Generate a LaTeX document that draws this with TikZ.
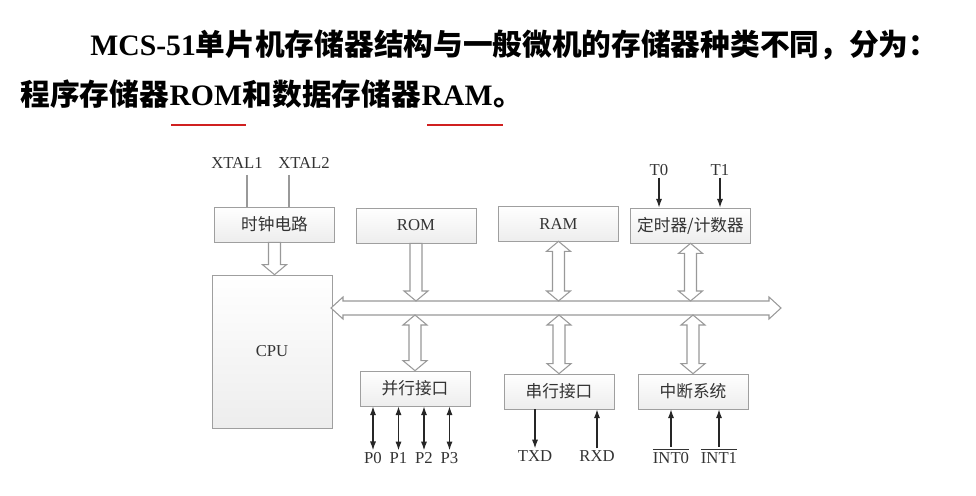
\documentclass[tikz,border=0pt]{standalone}
\usepackage{fontspec}
\setmainfont{Liberation Serif}
\newfontfamily\cjk{Noto Sans CJK SC}
\usepackage{tikz}
\usetikzlibrary{arrows.meta}
\usetikzlibrary{calc}
\tikzstyle{title} = [inner sep=0pt, text=black, font=\bfseries\fontsize{16.9}{20}\selectfont]
\tikzstyle{redline} = [draw={rgb,255:red,208;green,32;blue,32}, line width=1.7pt]
\tikzstyle{unit} = [rectangle, draw=gray!75, top color=white, bottom color=gray!14, minimum width=2.4cm, minimum height=0.7cm, text=black!80, font=\fontsize{9.5}{11}\selectfont]
\tikzstyle{port} = [unit, minimum width=2.2cm]
\tikzstyle{pin} = [inner sep=1pt, text=black!80, font=\fontsize{9.5}{11}\selectfont]
\tikzstyle{wire} = [draw=gray!80, line width=0.6pt]
\tikzstyle{sig} = [draw=black!85, line width=0.7pt, >={Latex[length=5pt,width=3.5pt]}]
\tikzstyle{hollow} = [draw=gray!80, fill=white, line width=0.6pt, line join=miter]
% hollow arrows: from (#1) to (#2), vertical ones point down
\newcommand\hollowdown[2]{\draw[hollow] ($(#1)+(-6,0)$) -- ($(#1)+(6,0)$) -- ($(#2)+(6,-10)$) -- ++(6,0) -- (#2) -- ++(-12,-10) -- ++(6,0) -- cycle;}
\newcommand\hollowboth[2]{\draw[hollow] (#1) -- ++(12,10) -- ++(-6,0) -- ($(#2)+(6,-10)$) -- ++(6,0) -- (#2) -- ++(-12,-10) -- ++(6,0) -- ($(#1)+(-6,10)$) -- ++(-6,0) -- cycle;}
\newcommand\hollowbus[2]{\draw[hollow] (#1) -- ++(12,-11) -- ++(0,4) -- ($(#2)+(-12,-7)$) -- ++(0,-4) -- (#2) -- ++(-12,11) -- ++(0,-4) -- ($(#1)+(12,7)$) -- ++(0,4) -- cycle;}

\begin{document}
\begin{tikzpicture}[x=0.02cm, y=-0.02cm]
\fill[white] (0,0) rectangle (976,496);
\useasboundingbox (0,0) rectangle (976,496);

% Heading text
\node[title, anchor=base west] (t1) at (90,56) {MCS-51{\cjk 单片机存储器结构与一般微机的存储器种类不同，分为：}};
\node[title, anchor=base west] (t2a) at (20,106) {\cjk 程序存储器};
\node[title, anchor=base west] (t2b) at (t2a.base east) {ROM};
\node[title, anchor=base west] (t2c) at (t2b.base east) {\cjk 和数据存储器};
\node[title, anchor=base west] (t2d) at (t2c.base east) {RAM};
\node[title, anchor=base west] (t2e) at (t2d.base east) {\cjk 。};
\draw[redline] ($(t2b.base west)+(2,19)$) -- ($(t2b.base east)+(4,19)$);
\draw[redline] ($(t2d.base west)+(6,19)$) -- ($(t2d.base east)+(10,19)$);

% Units on top
\node[unit] (clk) at (274.5,224.5) {\cjk 时钟电路};
\node[unit] (rom) at (416,225.5) {ROM};
\node[unit] (ram) at (558.5,223.5) {RAM};
\node[unit] (tmr) at (690.5,225.5) {\cjk 定时器/计数器};
% CPU and ports
\node[unit, minimum height=3.06cm] (cpu) at (272,351.5) {CPU};
\node[port] (par) at (415,388.5) {\cjk 并行接口};
\node[port] (ser) at (559,391.5) {\cjk 串行接口};
\node[port] (intr) at (693,391.5) {\cjk 中断系统};

% Pin labels
\node[pin] (x1) at (237,163) {XTAL1};
\node[pin] (x2) at (304,163) {XTAL2};
\node[pin] (t0) at (659,170) {T0};
\node[pin] (t1) at (720,170) {T1};
\node[pin] (p0) at (373,458) {P0};
\node[pin] (p1) at (398.5,458) {P1};
\node[pin] (p2) at (424,458) {P2};
\node[pin] (p3) at (449.5,458) {P3};
\node[pin] (txd) at (535,456) {TXD};
\node[pin] (rxd) at (597,456) {RXD};
\node[pin] (int0) at (671,456) {$\overline{\hbox{INT0}}$};
\node[pin] (int1) at (719,456) {$\overline{\hbox{INT1}}$};

% Crystal lines
\coordinate (x1e) at (247,175);
\coordinate (x2e) at (289,175);
\draw[wire] (x1e) -- (x1e |- clk.north);
\draw[wire] (x2e) -- (x2e |- clk.north);

% Signal arrows
\draw[sig, ->] (t0.south) -- (t0.south |- tmr.north);
\draw[sig, ->] (t1.south) -- (t1.south |- tmr.north);
\foreach \p in {p0, p1, p2, p3}
  \draw[sig, <->] (\p.north) -- (\p.north |- par.south);
\draw[sig, ->] (txd.north |- ser.south) -- (txd.north);
\draw[sig, ->] (rxd.north) -- (rxd.north |- ser.south);
\draw[sig, ->] (int0.north) -- (int0.north |- intr.south);
\draw[sig, ->] (int1.north) -- (int1.north |- intr.south);

% Bus and hollow arrows
\coordinate (busl) at (331,308);
\coordinate (busr) at (781,308);
\coordinate (bt) at (0,301);
\coordinate (bb) at (0,315);
\hollowbus{busl}{busr}
\hollowdown{clk.south}{clk.south |- cpu.north}
\hollowdown{rom.south}{rom.south |- bt}
\hollowboth{ram.south}{ram.south |- bt}
\hollowboth{tmr.south}{tmr.south |- bt}
\hollowboth{par.north |- bb}{par.north}
\hollowboth{ser.north |- bb}{ser.north}
\hollowboth{intr.north |- bb}{intr.north}
\end{tikzpicture}
\end{document}
